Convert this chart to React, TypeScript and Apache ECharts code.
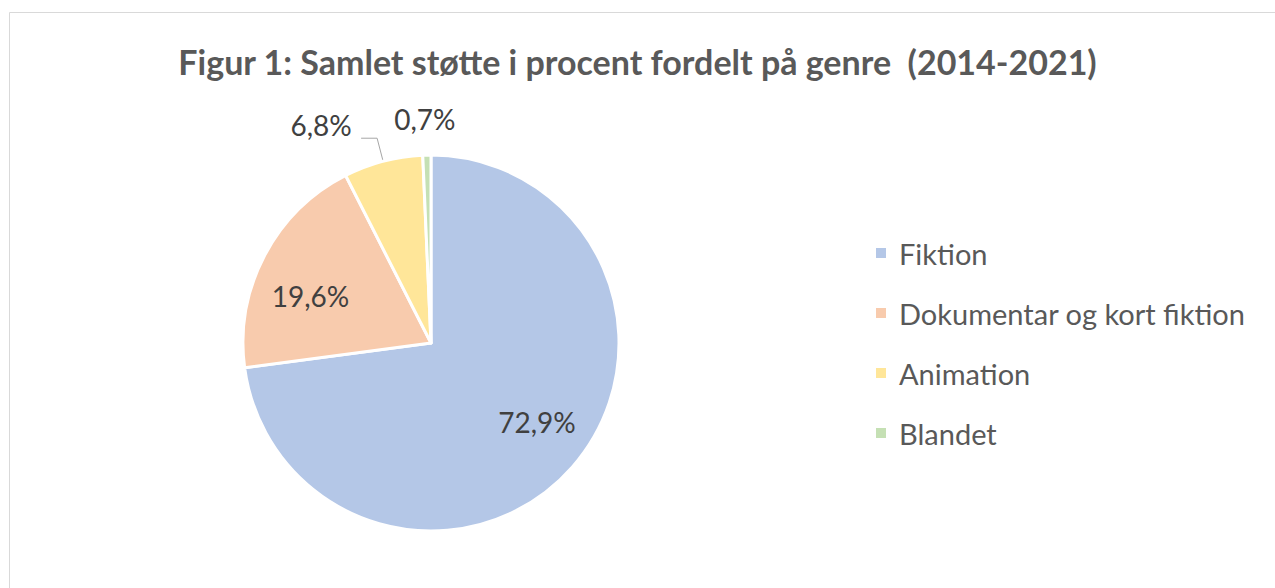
import React, { useEffect, useRef } from "react";
import * as echarts from "echarts";

const categories = ["Fiktion", "Dokumentar og kort fiktion", "Animation", "Blandet"];
const values = [72.9, 19.6, 6.8, 0.7];
const colors = ["#B4C7E7", "#F8CBAD", "#FFE699", "#C5E0B4"];
const titleText = "Figur 1: Samlet støtte i procent fordelt på genre  (2014-2021)";

const CX = 431;
const CY = 343;
const R = 188;

const fmt = (v: number) => v.toFixed(1).replace(".", ",") + "%";

export default function App() {
  const ref = useRef<HTMLDivElement>(null);
  useEffect(() => {
    if (!ref.current) return;
    const chart = echarts.init(ref.current, undefined, { renderer: "svg" });
    const total = values.reduce((a, b) => a + b, 0);
    const midAngle = (i: number) => {
      let cum = 0;
      for (let k = 0; k < i; k++) cum += values[k];
      return ((cum + values[i] / 2) / total) * Math.PI * 2;
    };
    const pointAt = (a: number, r: number) => [CX + r * Math.sin(a), CY - r * Math.cos(a)];

    chart.setOption({
      animation: false,
      backgroundColor: "#fff",
      title: {
        text: titleText,
        left: "center",
        top: 39,
        textStyle: {
          fontFamily: "Lato",
          fontSize: 34,
          fontWeight: "bold",
          color: "#595959",
        },
      },
      graphic: [
        {
          type: "rect",
          shape: { x: 9.5, y: 12.5, width: 1400, height: 700 },
          style: { fill: "none", stroke: "#d9d9d9", lineWidth: 1 },
          silent: true,
        },
      ],
      legend: {
        orient: "vertical",
        left: 869,
        top: 233,
        icon: "rect",
        itemWidth: 12,
        itemHeight: 12,
        itemGap: 30,
        textStyle: {
          fontFamily: "Lato",
          fontSize: 29,
          lineHeight: 30,
          color: "#595959",
          padding: [0, 0, 0, 7],
        },
        data: categories,
      },
      series: [
        {
          type: "pie",
          center: [CX, CY],
          radius: [0, R],
          startAngle: 90,
          clockwise: true,
          itemStyle: { borderColor: "#fff", borderWidth: 3 },
          label: {
            show: true,
            formatter: (p: any) => fmt(p.value),
            fontFamily: "Lato",
            fontSize: 28,
            color: "#404040",
          },
          labelLine: { show: true, lineStyle: { color: "#a6a6a6", width: 1 } },
          labelLayout: (p: any) => {
            const i = p.dataIndex;
            const a = midAngle(i);
            if (i === 0) {
              const [x, y] = pointAt(a, R * 0.7);
              return { x: x + 7, y: y - 8, align: "center", verticalAlign: "middle" };
            }
            if (i === 1) {
              const [x, y] = pointAt(a, R * 0.7);
              return { x: x - 4, y: y + 14, align: "center", verticalAlign: "middle" };
            }
            const [ex, ey] = pointAt(a, R);
            if (i === 2) {
              return {
                x: ex - 62,
                y: ey - 36,
                align: "center",
                verticalAlign: "middle",
                labelLinePoints: [
                  [ex, ey],
                  [ex - 6, ey - 23],
                  [ex - 22, ey - 23],
                ],
              };
            }
            return {
              x: ex - 2,
              y: ey - 36,
              align: "center",
              verticalAlign: "middle",
              labelLinePoints: [
                [ex, ey],
                [ex, ey],
                [ex, ey],
              ],
            };
          },
          data: categories.map((name, i) => ({
            name,
            value: values[i],
            itemStyle: { color: colors[i] },
          })),
        },
      ],
    });
    return () => chart.dispose();
  }, []);
  return (
    <div
      ref={ref}
      style={{ position: "fixed", left: 0, top: 0, width: 1275, height: 588 }}
    />
  );
}
